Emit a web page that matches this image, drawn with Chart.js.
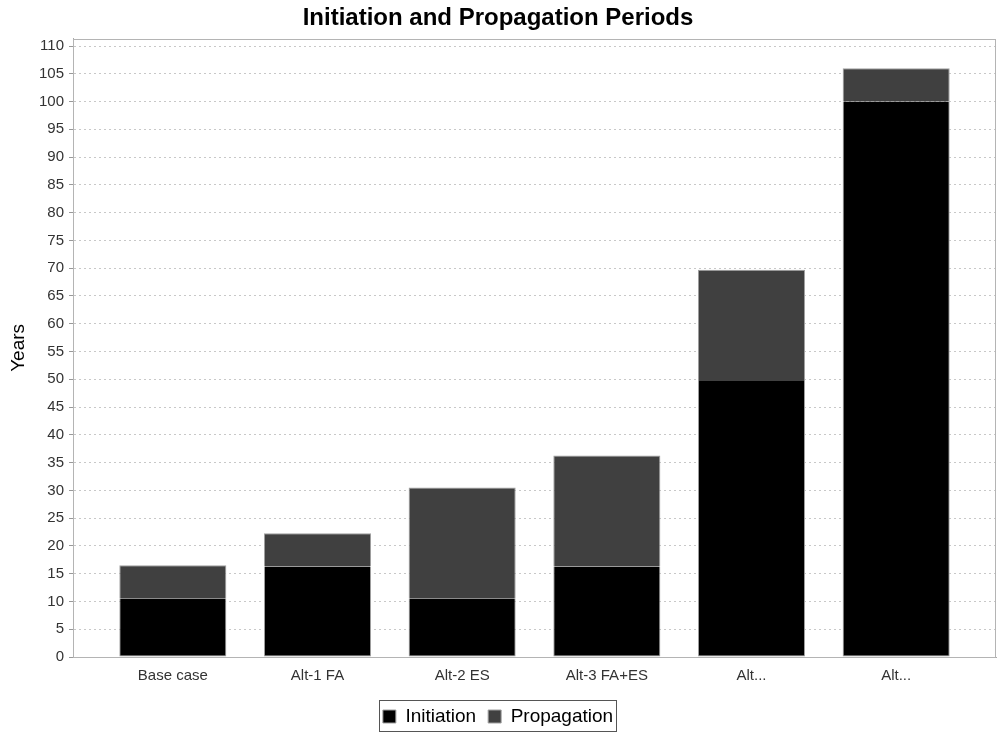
<!DOCTYPE html>
<html>
<head>
<meta charset="utf-8">
<script src="https://cdn.jsdelivr.net/npm/chart.js@4.4.1/dist/chart.umd.min.js"></script>
<style>
  html, body { margin: 0; padding: 0; background: #fff; }
  #wrap { width: 997px; height: 733px; position: relative; }
</style>
</head>
<body>
<div id="wrap"><canvas id="c"></canvas></div>
<script>
// Scenario labels along the x axis
const categories = ['Base case', 'Alt-1 FA', 'Alt-2 ES', 'Alt-3 FA+ES', 'Alt...', 'Alt...'];
// Years until corrosion initiation
const initiation = [10.5, 16.3, 10.5, 16.3, 49.7, 100];
// Years of propagation after initiation
const propagation = [6, 6, 20, 20, 20, 6];
// Y tick step and highest labelled tick (years)
const yStep = 5;
const yTop = 110;

const FONT = '"Liberation Sans", Arial, Helvetica, sans-serif';

// Thin gray frame around the plot area and a box around the legend
const framePlugin = {
  id: 'frame',
  afterDraw(chart) {
    const ctx = chart.ctx;
    const a = chart.chartArea;
    ctx.save();
    ctx.strokeStyle = '#b4b4b4';
    ctx.lineWidth = 1;
    ctx.strokeRect(Math.round(a.left) + 0.5, Math.round(a.top) + 0.5,
                   Math.round(a.right - a.left) - 1, Math.round(a.bottom - a.top));
    const lg = chart.legend;
    if (lg && lg.legendHitBoxes && lg.legendHitBoxes.length) {
      const boxes = lg.legendHitBoxes;
      const x0 = Math.min(...boxes.map(b => b.left)) - 4;
      const x1 = Math.max(...boxes.map(b => b.left + b.width)) + 3;
      const y0 = Math.min(...boxes.map(b => b.top)) - 7;
      const y1 = Math.min(Math.max(...boxes.map(b => b.top + b.height)) + 5, chart.height - 2);
      ctx.strokeStyle = '#555';
      ctx.strokeRect(Math.round(x0) + 0.5, Math.round(y0) + 0.5, Math.round(x1 - x0), Math.round(y1 - y0));
    }
    ctx.restore();
  }
};

new Chart(document.getElementById('c'), {
  type: 'bar',
  data: {
    datasets: [
      {
        label: 'Initiation',
        data: initiation.map((v, i) => ({ x: i, y: v })),
        backgroundColor: '#000000',
        borderColor: '#a0a0a0',
        borderWidth: 1,
        borderSkipped: 'top',
        barPercentage: 0.74,
        categoryPercentage: 1.0
      },
      {
        label: 'Propagation',
        data: propagation.map((v, i) => ({ x: i, y: v })),
        backgroundColor: '#404040',
        borderColor: '#a0a0a0',
        borderWidth: 1,
        borderSkipped: 'bottom',
        barPercentage: 0.74,
        categoryPercentage: 1.0
      }
    ]
  },
  options: {
    responsive: true,
    maintainAspectRatio: false,
    animation: false,
    layout: { padding: { left: 0, right: 1, top: 0, bottom: -3 } },
    plugins: {
      title: {
        display: true,
        text: 'Initiation and Propagation Periods',
        color: '#000',
        font: { family: FONT, size: 24, weight: 'bold' },
        padding: { top: 4, bottom: 6 }
      },
      legend: {
        display: true,
        position: 'bottom',
        labels: {
          color: '#000',
          font: { family: FONT, size: 19 },
          boxWidth: 13,
          boxHeight: 13,
          padding: 12
        }
      },
      tooltip: { enabled: false }
    },
    scales: {
      x: {
        type: 'linear',
        stacked: true,
        min: -0.69,
        max: categories.length - 1 + 0.69,
        offset: false,
        afterBuildTicks(scale) {
          scale.ticks = categories.map((_, i) => ({ value: i }));
        },
        ticks: {
          autoSkip: false,
          maxRotation: 0,
          color: '#333',
          font: { family: FONT, size: 15 },
          padding: 10,
          callback: (v) => categories[v]
        },
        grid: { display: false, drawTicks: false },
        border: { display: true, color: '#aaa', width: 1 }
      },
      y: {
        stacked: true,
        min: 0,
        max: 111.3,
        afterBuildTicks(scale) {
          const t = [];
          for (let v = 0; v <= yTop; v += yStep) t.push({ value: v });
          scale.ticks = t;
        },
        afterFit(scale) { scale.width = 73; },
        ticks: {
          color: '#333',
          font: { family: FONT, size: 15 },
          padding: 5
        },
        grid: {
          color: '#c8c8c8',
          tickLength: 4,
          tickColor: '#999',
          tickBorderDash: []
        },
        border: { display: true, color: '#aaa', width: 1, dash: [2, 3] },
        title: {
          display: true,
          text: 'Years',
          color: '#000',
          font: { family: FONT, size: 19 },
          padding: { top: 7, bottom: 0 }
        }
      }
    }
  },
  plugins: [framePlugin]
});
</script>
</body>
</html>
